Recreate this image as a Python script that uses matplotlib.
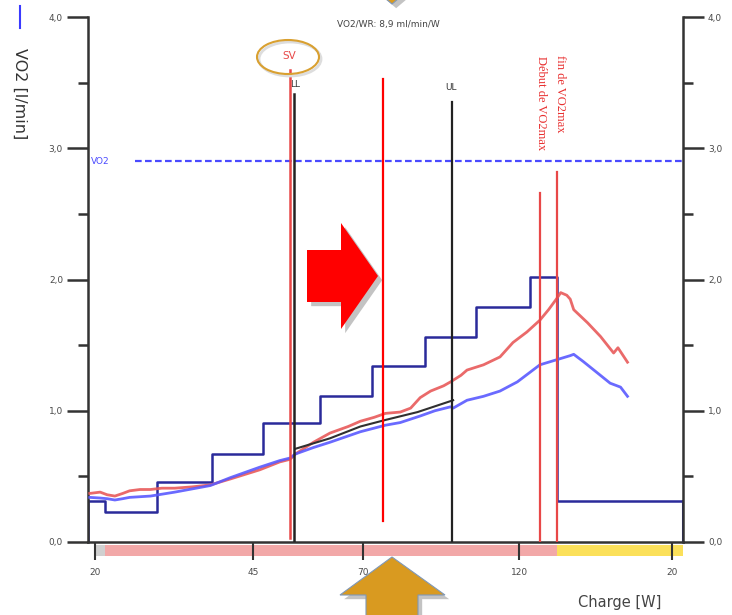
import matplotlib
matplotlib.use("Agg")
import matplotlib.pyplot as plt
import matplotlib.patheffects as pe
from matplotlib.patches import Polygon, Ellipse, Rectangle
from matplotlib.transforms import blended_transform_factory

# ---- data (time in s, values in l/min) ----
load_t = [0, 20, 80, 143, 202, 268, 328, 388, 447, 510, 541, 686]
load_v = [0.31, 0.225, 0.46, 0.67, 0.91, 1.11, 1.34, 1.565, 1.79, 2.02, 0.31, 0.31]

red_t = [2, 14, 22, 31, 40, 48, 60, 72, 85, 100, 120, 141, 164, 198, 221, 233,
         239, 260, 279, 300, 314, 330, 343, 360, 372, 383, 395, 410, 418, 430,
         437, 456, 475, 490, 506, 521, 531, 541, 545, 552, 556, 560, 576, 591,
         606, 611, 614, 622]
red_v = [0.37, 0.38, 0.36, 0.35, 0.37, 0.39, 0.40, 0.40, 0.41, 0.41, 0.42, 0.435,
         0.48, 0.55, 0.61, 0.63, 0.67, 0.76, 0.83, 0.88, 0.92, 0.95, 0.98, 0.99,
         1.02, 1.10, 1.15, 1.19, 1.22, 1.27, 1.31, 1.35, 1.41, 1.52, 1.60, 1.69,
         1.77, 1.86, 1.90, 1.88, 1.85, 1.77, 1.67, 1.565, 1.44, 1.48, 1.45, 1.37]

blue_t = [2, 14, 22, 31, 40, 48, 72, 100, 141, 164, 198, 221, 233, 239, 260, 279,
          314, 343, 360, 383, 400, 418, 421, 437, 456, 475, 495, 521, 541, 556,
          560, 571, 587, 602, 614, 622]
blue_v = [0.34, 0.335, 0.33, 0.32, 0.33, 0.34, 0.35, 0.38, 0.43, 0.49, 0.57, 0.62,
          0.64, 0.67, 0.72, 0.76, 0.84, 0.89, 0.91, 0.96, 1.00, 1.03, 1.02, 1.08,
          1.11, 1.15, 1.22, 1.35, 1.39, 1.42, 1.43, 1.375, 1.29, 1.21, 1.18, 1.11]

fit_t = [239, 279, 314, 343, 380, 421]
fit_v = [0.71, 0.79, 0.88, 0.93, 0.99, 1.08]

vo2max_ref = 2.9
vo2max_ref_start = 54

xtick_pos = [8, 190, 317, 497, 673]
xtick_lab = ["20", "45", "70", "120", "20"]

# threshold markers
sv_t, sv_top = 233, 3.60
ll_t, ll_top = 238, 3.41
mark_t, mark_top, mark_bot = 340, 3.53, 0.16
ul_t, ul_top = 420, 3.35
deb_t, deb_top = 521.5, 2.66
fin_t, fin_top = 541, 2.82

phase_grey = (8, 20)
phase_pink = (20, 541)
phase_yellow = (541, 686)

W, H = 732, 615
fig = plt.figure(figsize=(W / 100, H / 100), dpi=100)
ax = fig.add_axes([88 / W, (H - 542) / H, 595 / W, 525 / H])

def P(x, y):
    return (x / W, 1 - y / H)

ax.set_xlim(0, 686)
ax.set_ylim(0, 4)

dark = "#333333"
ax.spines["top"].set_visible(False)
for s in ["left", "right", "bottom"]:
    ax.spines[s].set_color(dark)
    ax.spines[s].set_linewidth(1.8)

ax.set_yticks([0, 1, 2, 3, 4])
ax.set_yticks([0.5, 1.5, 2.5, 3.5], minor=True)
ax.set_yticklabels(["0,0", "1,0", "2,0", "3,0", "4,0"])
ax.tick_params(axis="y", which="major", direction="out", length=15, width=1.8,
               color=dark, left=True, right=True, labelleft=True, labelright=True,
               labelsize=6.5, labelcolor="#4a4a4a", pad=3)
ax.tick_params(axis="y", which="minor", direction="out", length=7, width=1.8,
               color=dark, left=True, right=True)
ax.set_xticks(xtick_pos)
ax.set_xticklabels(xtick_lab)
ax.tick_params(axis="x", direction="out", length=13, width=1.5, color=dark,
               labelsize=6.5, labelcolor="#4a4a4a", pad=6)

# phase bar under the axis
tr = blended_transform_factory(ax.transData, ax.transAxes)
for (a, b), c in [(phase_grey, "#d0d0d0"), (phase_pink, "#f2a8a8"),
                  (phase_yellow, "#fbe05a")]:
    ax.add_patch(Rectangle((a, -0.027), b - a, 0.021, transform=tr,
                           color=c, clip_on=False, zorder=0.5, lw=0))

# curves
ax.step(load_t, load_v, where="post", color="#2a2a9a", lw=1.8, zorder=2)
ax.plot([0, 0], [0, load_v[0]], color="#2a2a9a", lw=1.8, zorder=2)
ax.plot([load_t[-1], load_t[-1]], [0, load_v[-1]], color="#2a2a9a", lw=2.2, zorder=2)
ax.plot(red_t, red_v, color="#e85a5a", lw=2.0, alpha=0.9, zorder=3)
ax.plot(blue_t, blue_v, color="#5a5aff", lw=2.0, alpha=0.9, zorder=3)
ax.plot(fit_t, fit_v, color="#303030", lw=1.5, zorder=4)

ax.plot([vo2max_ref_start, 686], [vo2max_ref, vo2max_ref], color="#4a4aff",
        lw=1.6, ls=(0, (3, 1.5)), zorder=3)
ax.text(3, vo2max_ref, "VO2", color="#4a4aff", fontsize=6.5, va="center", ha="left")

# vertical markers
ax.plot([sv_t, sv_t], [0.03, sv_top], color="#e84848", lw=1.8, zorder=5)
ax.plot([ll_t, ll_t], [0, ll_top], color="#222222", lw=1.8, zorder=5)
ax.plot([mark_t, mark_t], [mark_bot, mark_top], color="#ff0000", lw=1.6, zorder=5)
ax.plot([ul_t, ul_t], [0, ul_top], color="#222222", lw=1.6, zorder=5)
ax.plot([deb_t, deb_t], [0, deb_top], color="#e84848", lw=1.6, zorder=5)
ax.plot([fin_t, fin_t], [0, fin_top], color="#e84848", lw=1.6, zorder=5)

ax.text(ll_t + 1, 3.45, "LL", fontsize=6.5, color="#333333", ha="center", va="bottom")
ax.text(ul_t - 2, 3.43, "UL", fontsize=6.5, color="#333333", ha="center", va="bottom")
ax.text(sv_t - 1, 3.70, "SV", fontsize=7.5, color="#e84848", ha="center", va="center")
ax.text(deb_t + 1, 3.70, "Début de VO2max", family="Liberation Serif", fontsize=9,
        color="#e83030", rotation=270, ha="center", va="top")
ax.text(fin_t + 3.5, 3.71, "fin de VO2max", family="Liberation Serif", fontsize=9,
        color="#e83030", rotation=270, ha="center", va="top")

fig.text(*P(388, 24), "VO2/WR: 8,9 ml/min/W", fontsize=6.5, color="#444444",
         ha="center", va="center")
fig.text(*P(20, 94), "VO2 [l/min]", fontsize=11.5, color="#333333", rotation=270,
         ha="center", va="center")
fig.add_artist(plt.Line2D([20 / W, 20 / W], [1 - 6 / H, 1 - 28 / H],
                          color="#3a3aff", lw=1.5))
fig.text(*P(620, 603), "Charge [W]", fontsize=10.5, color="#444444",
         ha="center", va="center")

shadow = [pe.SimplePatchShadow(offset=(3, -3), shadow_rgbFace="#888888", alpha=0.5),
          pe.Normal()]

# SV circle with a soft offset outline behind it
fig.add_artist(Ellipse(P(290, 59), 62 / W, 34 / H, transform=fig.transFigure,
                       fill=False, edgecolor="#dddddd", lw=2.0, zorder=9))
fig.add_artist(Ellipse(P(288, 57), 62 / W, 34 / H, transform=fig.transFigure,
                       fill=False, edgecolor="#d9a030", lw=1.5, zorder=10))

# red arrow pointing right
red_arrow = Polygon([P(307, 250), P(341, 250), P(341, 223), P(378, 276),
                     P(341, 329), P(341, 302), P(307, 302)],
                    closed=True, transform=fig.transFigure, facecolor="#ff0000",
                    edgecolor="none", zorder=11)
red_arrow.set_path_effects(shadow)
fig.add_artist(red_arrow)

# orange arrow from below
up_arrow = Polygon([P(366, 640), P(366, 595), P(340, 595), P(392, 557),
                    P(445, 595), P(418, 595), P(418, 640)],
                   closed=True, transform=fig.transFigure, facecolor="#d99a20",
                   edgecolor="#7f98b8", lw=0.8, zorder=11)
up_arrow.set_path_effects(shadow)
fig.add_artist(up_arrow)

# orange arrow from above
down_arrow = Polygon([P(340, -40), P(444, -40), P(392, 4)],
                     closed=True, transform=fig.transFigure, facecolor="#d99a20",
                     edgecolor="#7f98b8", lw=0.8, zorder=11)
down_arrow.set_path_effects(shadow)
fig.add_artist(down_arrow)

fig.savefig("out.png", dpi=100)
